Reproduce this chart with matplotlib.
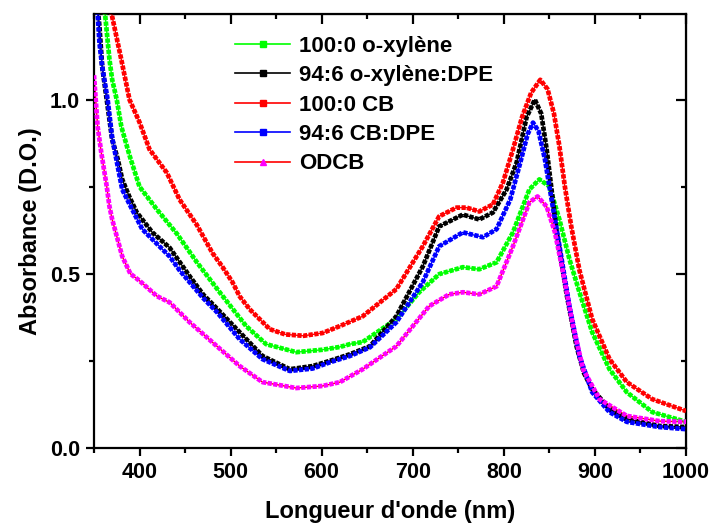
import numpy as np
import matplotlib
matplotlib.use('Agg')
import matplotlib.pyplot as plt
from matplotlib.lines import Line2D
from matplotlib.ticker import MultipleLocator

plt.rcParams['font.family'] = ['Liberation Sans', 'DejaVu Sans']
plt.rcParams['font.weight'] = 'bold'

# series (wavelength nm, absorbance)
labels = ['100:0 o-xylène', '94:6 o-xylène:DPE', '100:0 CB', '94:6 CB:DPE', 'ODCB']

x_oxy = [357, 362, 367, 370, 375, 380, 389, 400, 419, 441, 463, 488, 517, 539, 572, 601, 620, 631, 645, 682, 707,
         729, 755, 773, 792, 810, 828, 839, 850, 861, 872, 883, 897, 916, 935, 963, 1000]
y_oxy = [1.38, 1.25, 1.115, 1.057, 1.0, 0.923, 0.84, 0.75, 0.685, 0.615, 0.533, 0.447, 0.35, 0.298, 0.275, 0.282, 0.29,
         0.298, 0.304, 0.37, 0.447, 0.499, 0.519, 0.513, 0.533, 0.619, 0.742, 0.771, 0.751, 0.656, 0.542, 0.447, 0.332,
         0.226, 0.16, 0.103, 0.075]

x_oxy_dpe = [350, 356, 359, 364, 370, 376, 381, 389, 397, 403, 414, 433, 455, 470, 485, 510, 535, 565, 590, 609, 631,
             653, 682, 711, 729, 755, 773, 788, 803, 814, 825, 834, 841, 847, 858, 869, 880, 888, 897, 916, 935, 971, 1000]
y_oxy_dpe = [1.38, 1.209, 1.095, 1.0, 0.885, 0.83, 0.771, 0.72, 0.676, 0.656, 0.619, 0.575, 0.493, 0.44, 0.4, 0.332,
             0.264, 0.226, 0.235, 0.25, 0.269, 0.292, 0.378, 0.521, 0.636, 0.67, 0.656, 0.676, 0.742, 0.819, 0.95, 1.0,
             0.96, 0.857, 0.62, 0.44, 0.29, 0.215, 0.169, 0.112, 0.083, 0.063, 0.06]

x_cb = [362, 370, 380, 389, 400, 411, 430, 444, 463, 480, 491, 502, 510, 521, 543, 560, 580, 601, 620, 645, 682, 711,
        729, 748, 759, 773, 788, 799, 810, 820, 830, 840, 848, 855, 861, 867, 874, 883, 897, 916, 935, 963, 1000]
y_cb = [1.36, 1.238, 1.115, 1.0, 0.935, 0.857, 0.79, 0.713, 0.64, 0.56, 0.52, 0.476, 0.435, 0.398, 0.341, 0.326, 0.322,
        0.33, 0.35, 0.378, 0.456, 0.579, 0.665, 0.69, 0.69, 0.679, 0.699, 0.762, 0.857, 0.95, 1.02, 1.057, 1.03, 0.96,
        0.866, 0.75, 0.636, 0.51, 0.37, 0.255, 0.189, 0.14, 0.106]

x_cb_dpe = [350, 354, 356, 359, 365, 370, 381, 389, 403, 433, 444, 455, 470, 485, 510, 535, 565, 590, 609, 631, 653,
            682, 711, 729, 755, 777, 792, 807, 818, 826, 832, 838, 845, 852, 861, 872, 883, 897, 916, 935, 971, 1000]
y_cb_dpe = [1.4, 1.25, 1.163, 1.095, 1.0, 0.89, 0.742, 0.7, 0.628, 0.55, 0.51, 0.476, 0.43, 0.39, 0.312, 0.255, 0.221,
            0.228, 0.246, 0.264, 0.289, 0.361, 0.476, 0.579, 0.619, 0.605, 0.628, 0.713, 0.819, 0.9, 0.934, 0.91, 0.83,
            0.72, 0.58, 0.407, 0.264, 0.16, 0.103, 0.075, 0.06, 0.054]

x_odcb = [350, 354, 358, 364, 367, 370, 381, 390, 400, 419, 433, 455, 485, 510, 535, 572, 601, 620, 645, 682, 718, 740,
          755, 773, 792, 810, 828, 837, 847, 856, 865, 876, 887, 905, 935, 971, 1000]
y_odcb = [1.07, 0.923, 0.848, 0.751, 0.693, 0.656, 0.55, 0.5, 0.48, 0.436, 0.418, 0.361, 0.292, 0.235, 0.189, 0.172,
          0.178, 0.189, 0.226, 0.292, 0.407, 0.441, 0.447, 0.441, 0.464, 0.579, 0.705, 0.722, 0.693, 0.62, 0.504, 0.35,
          0.226, 0.14, 0.092, 0.077, 0.075]

series = [(x_oxy, y_oxy, '#00ff00', '#00ff00', 's'),
          (x_oxy_dpe, y_oxy_dpe, 'black', 'black', 's'),
          (x_cb, y_cb, '#ff0000', '#ff0000', 's'),
          (x_cb_dpe, y_cb_dpe, '#0000ff', '#0000ff', 's'),
          (x_odcb, y_odcb, '#ff0000', '#ff00ff', '^')]

fig = plt.figure(figsize=(7.12, 5.27), dpi=100)
ax = fig.add_axes([0.132, 0.15, 0.8315, 0.8235])

handles = []
for (x, y, lc, mc, mk), lab in zip(series, labels):
    ax.plot(x, y, color=lc, lw=1.0, zorder=2)
    # dense marker band
    ax.plot(x, y, color=mc, lw=3.4, linestyle=(0, (0.9, 0.3)), dash_capstyle='butt', zorder=3)
    handles.append(Line2D([], [], color=lc, lw=1.2, marker=mk, ms=4.5, mfc=mc, mec=mc))

ax.set_xlim(350, 1000)
ax.set_ylim(0, 1.246)
ax.xaxis.set_major_locator(MultipleLocator(100))
ax.xaxis.set_minor_locator(MultipleLocator(50))
ax.yaxis.set_major_locator(MultipleLocator(0.5))
ax.yaxis.set_minor_locator(MultipleLocator(0.25))
ax.tick_params(which='both', direction='out', width=1.6, labelsize=15.5, pad=4)
ax.tick_params(which='major', length=6)
ax.tick_params(which='minor', length=3.5)
for s in ax.spines.values():
    s.set_linewidth(1.6)

sx = ax.secondary_xaxis('top')
sx.xaxis.set_major_locator(MultipleLocator(100))
sx.xaxis.set_minor_locator(MultipleLocator(50))
sx.tick_params(which='both', direction='in', width=1.6, labeltop=False)
sx.tick_params(which='major', length=7)
sx.tick_params(which='minor', length=3.5)
sy = ax.secondary_yaxis('right')
sy.yaxis.set_major_locator(MultipleLocator(0.5))
sy.yaxis.set_minor_locator(MultipleLocator(0.25))
sy.tick_params(which='both', direction='in', width=1.6, labelright=False)
sy.tick_params(which='major', length=7)
sy.tick_params(which='minor', length=3.5)

ax.set_xlabel("Longueur d'onde (nm)", fontsize=17, fontweight='bold', labelpad=12)
ax.set_ylabel('Absorbance (D.O.)', fontsize=17, fontweight='bold', labelpad=6)

ax.legend(handles, labels, loc='upper left', bbox_to_anchor=(0.238, 0.95), frameon=False,
          prop={'size': 16, 'weight': 'bold'}, handlelength=2.5, handletextpad=0.4,
          labelspacing=0.38, borderpad=0, borderaxespad=0, numpoints=1)

fig.savefig('out.png', dpi=100)
plt.close()
